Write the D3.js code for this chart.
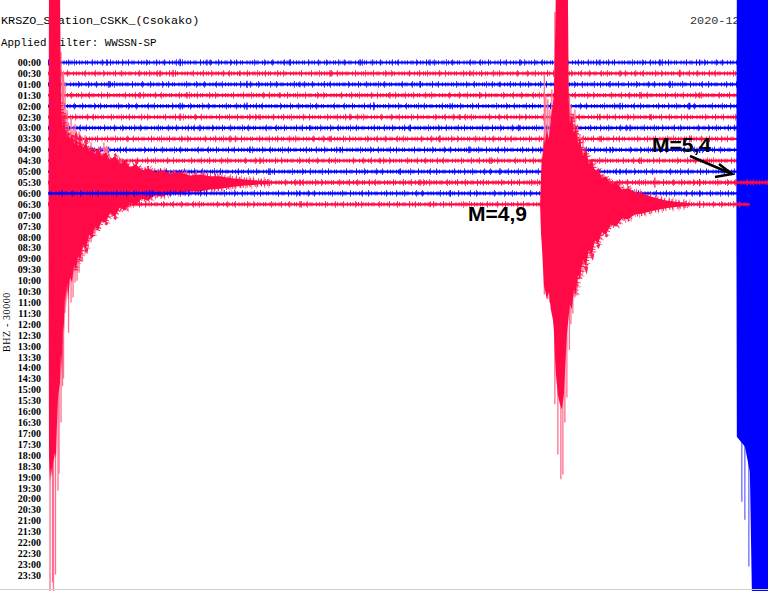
<!DOCTYPE html>
<html>
<head>
<meta charset="utf-8">
<script src="https://cdn.jsdelivr.net/npm/d3@7"></script>
<style>
  html, body { margin: 0; padding: 0; background: #fff; }
  svg { display: block; }
</style>
</head>
<body>
<script>
// метки строк хеликордера (по полчаса)
const timeLabels = ["00:00", "00:30", "01:00", "01:30", "02:00", "02:30", "03:00", "03:30",
  "04:00", "04:30", "05:00", "05:30", "06:00", "06:30", "07:00", "07:30",
  "08:00", "08:30", "09:00", "09:30", "10:00", "10:30", "11:00", "11:30",
  "12:00", "12:30", "13:00", "13:30", "14:00", "14:30", "15:00", "15:30",
  "16:00", "16:30", "17:00", "17:30", "18:00", "18:30", "19:00", "19:30",
  "20:00", "20:30", "21:00", "21:30", "22:00", "22:30", "23:00", "23:30"];

// конец записи в каждой строке, минуты
const rowEnd = [30, 30, 30, 30, 30, 30, 30, 30, 30, 30, 30, 30, 30, 28];

// уровень фонового шума, тыс. отсчётов
const noiseLevel = [3.0, 3.2, 3.0, 3.2, 3.0, 3.2, 3.0, 3.2, 3.0, 3.2, 3.0, 3.6, 3.0, 3.2];

// отдельные всплески шума: [строка, минута, тыс. отсчётов]
const bursts = [
  [0, 2.35, 9], [0, 5.27, 10], [0, 6.34, 8], [0, 9.65, 8], [0, 12.45, 9], [0, 15.24, 8], [0, 18.83, 9], [0, 22.02, 8], [0, 24.41, 9], [0, 26.0, 8],
  [1, 4.47, 9], [1, 4.99, 10], [1, 7.66, 8], [1, 11.25, 9], [1, 16.83, 8], [1, 22.82, 9], [1, 25.21, 10],
  [2, 2.47, 9], [2, 7.94, 10], [2, 10.05, 8], [2, 14.84, 9], [2, 18.03, 8], [2, 22.42, 9], [2, 24.81, 10],
  [3, 3.67, 9], [3, 5.54, 9], [3, 9.25, 8], [3, 13.64, 9], [3, 17.23, 8], [3, 23.61, 9], [3, 26.0, 8],
  [4, 5.27, 9], [4, 7.94, 10], [4, 13.0, 11], [4, 16.04, 8], [4, 22.82, 9], [4, 25.6, 9],
  [5, 5.27, 10], [5, 8.46, 8], [5, 12.05, 9], [5, 16.43, 8], [5, 22.02, 9], [5, 24.01, 8],
  [6, 6.06, 9], [6, 10.45, 8], [6, 14.44, 9], [6, 18.83, 8], [6, 23.22, 9],
  [7, 7.26, 9], [7, 11.25, 8], [7, 15.64, 9], [7, 22.02, 8], [7, 25.6, 9],
  [8, 8.06, 9], [8, 11.65, 8], [8, 16.83, 9], [8, 22.42, 8], [8, 26.0, 9],
  [9, 8.46, 9], [9, 13.24, 8], [9, 17.63, 9], [9, 23.61, 9],
  [10, 8.86, 9], [10, 14.04, 8], [10, 18.03, 9], [10, 22.82, 8],
  [11, 10.05, 9], [11, 14.84, 9], [11, 24.21, 14], [11, 26.0, 10],
  [12, 4.07, 9], [12, 10.05, 8], [12, 16.04, 9], [12, 22.82, 8], [12, 26.0, 9],
  [13, 10.05, 9], [13, 15.24, 8], [13, 26.0, 10]
];

// землетрясения: огибающая [минута, вверх, вниз] в тыс. отсчётов
const quakeRows = [10, 11, 13];

const quakeA = [  // M=5,4, конец строки 05:00
  [27.46, 0, 0], [27.48, 495, 729], [27.64, 495, 743], [27.80, 495, 756],
  [28.00, 495, 825], [28.08, 495, 1155], [28.80, 495, 1155]
];
const quakeAPeaks = [[27.68, 495, 908], [27.80, 495, 957], [27.96, 495, 1086]];

const quakeB = [  // продолжение в строке 05:30
  [0.02, 0, 0], [0.04, 550, 756], [0.08, 550, 825], [0.12, 550, 784], [0.16, 550, 811],
  [0.20, 550, 770], [0.24, 550, 759], [0.28, 550, 743], [0.32, 550, 759], [0.36, 550, 660],
  [0.40, 550, 591], [0.44, 550, 569], [0.48, 523, 550], [0.52, 220, 468], [0.56, 165, 523],
  [0.60, 151, 385], [0.64, 193, 413], [0.68, 138, 303], [0.72, 151, 344], [0.76, 124, 275],
  [0.80, 138, 325], [0.88, 116, 261], [0.96, 132, 275], [1.04, 105, 226], [1.12, 121, 242],
  [1.20, 99, 198], [1.28, 116, 215], [1.40, 94, 171], [1.52, 110, 182], [1.64, 83, 143],
  [1.76, 99, 154], [1.87, 77, 121], [1.99, 94, 132], [2.15, 72, 105], [2.31, 83, 110],
  [2.47, 61, 83], [2.67, 72, 94], [2.87, 50, 69], [3.07, 61, 77], [3.27, 41, 55],
  [3.51, 50, 61], [3.75, 33, 44], [3.99, 39, 50], [4.27, 28, 36], [4.55, 33, 39],
  [4.87, 25, 30], [5.27, 28, 28], [5.66, 19, 25], [6.06, 22, 25], [6.46, 17, 19],
  [6.86, 17, 17], [7.34, 12, 12], [7.86, 8, 8], [8.46, 5, 5], [8.86, 3, 3]
];
const quakeBPeaks = [
  [0.08, 550, 1128], [0.18, 550, 1100], [0.22, 550, 1128], [0.30, 550, 1078], [0.40, 550, 847],
  [0.44, 550, 800], [0.52, 358, 660], [0.58, 300, 560], [0.62, 303, 539], [0.68, 275, 358],
  [0.76, 200, 300], [0.82, 165, 413], [0.92, 180, 330], [1.00, 151, 316], [1.08, 160, 275],
  [1.16, 124, 270], [1.24, 140, 248], [1.36, 124, 215], [1.48, 130, 198], [1.60, 96, 179],
  [1.72, 110, 165], [1.87, 83, 138], [2.03, 100, 120], [2.23, 110, 96], [2.43, 80, 90],
  [2.67, 69, 88], [2.91, 60, 80], [3.19, 55, 77], [3.47, 50, 60], [3.87, 40, 50],
  [4.39, 35, 40], [5.07, 30, 30], [5.46, 30, 33], [5.86, 25, 30], [6.26, 28, 22],
  [6.66, 20, 24], [7.18, 18, 18], [7.66, 14, 16]
];

const quakeC = [  // M=4,9, строка 06:30
  [19.63, 0, 0], [19.67, 83, 83], [19.71, 151, 124], [19.74, 124, 165], [19.78, 193, 220],
  [19.82, 165, 234], [19.90, 206, 261], [19.98, 179, 242], [20.06, 234, 289], [20.14, 275, 316],
  [20.18, 303, 344], [20.22, 413, 413], [20.26, 578, 468], [20.34, 578, 523], [20.42, 578, 550],
  [20.50, 578, 564], [20.58, 578, 523], [20.66, 578, 413], [20.70, 578, 358], [20.74, 578, 330],
  [20.78, 275, 303], [20.82, 220, 275], [20.90, 248, 289], [20.98, 193, 234], [21.06, 215, 248],
  [21.14, 165, 193], [21.22, 182, 206], [21.34, 132, 151], [21.46, 151, 171], [21.58, 110, 124],
  [21.70, 124, 138], [21.82, 88, 99], [21.94, 99, 110], [22.10, 72, 77], [22.26, 77, 83],
  [22.46, 55, 55], [22.66, 61, 61], [22.90, 41, 39], [23.14, 44, 41], [23.42, 33, 28],
  [23.69, 30, 26], [24.01, 22, 20], [24.33, 16, 15], [24.73, 10, 10], [25.21, 6, 6],
  [25.61, 3, 3]
];
const quakeCPeaks = [
  [19.80, 358, 248], [19.86, 300, 230], [19.94, 289, 261], [20.02, 260, 270], [20.10, 316, 275],
  [20.22, 528, 550], [20.34, 578, 688], [20.46, 578, 756], [20.54, 578, 743], [20.62, 578, 600],
  [20.70, 578, 531], [20.80, 300, 400], [20.86, 275, 330], [20.94, 250, 300], [21.02, 261, 256],
  [21.12, 220, 230], [21.22, 193, 171], [21.34, 180, 190], [21.42, 151, 165], [21.62, 120, 140],
  [21.90, 83, 99], [22.18, 80, 75], [22.34, 55, 60], [22.54, 60, 60], [22.82, 45, 40],
  [23.22, 35, 30], [23.61, 25, 22], [23.93, 20, 18]
];

const quakeEnv = [quakeA, quakeB, quakeC];
const quakePeaks = [quakeAPeaks, quakeBPeaks, quakeCPeaks];

const W = 768, H = 591;
const blue = "#0000ff", blueLight = "#6a6aff";
const red = "#ff0a46", redLight = "#ff6f8f";

const svg = d3.select("body").append("svg")
    .attr("width", W)
    .attr("height", H)
    .style("background-color", "#fff");

const x = d3.scaleLinear().domain([0, 30]).range([48, 800]);  // минуты внутри строки
const y = d3.scaleLinear().domain([0, 47]).range([62.5, 575.3]);  // номер строки
const amp = d3.scaleLinear().domain([0, 30]).range([0, y(1) - y(0)]);  // 30000 отсчётов на строку

// подписи сверху
svg.append("text")
    .attr("x", 1).attr("y", 24)
    .style("font-family", "'Liberation Mono', 'DejaVu Sans Mono', monospace")
    .style("font-size", "11.8px")
    .text("KRSZO_Station_CSKK_(Csokako)");

svg.append("text")
    .attr("x", 1).attr("y", 46)
    .style("font-family", "'Liberation Mono', 'DejaVu Sans Mono', monospace")
    .style("font-size", "10.8px")
    .text("Applied filter: WWSSN-SP");

svg.append("text")
    .attr("x", 690).attr("y", 24)
    .style("font-family", "'Liberation Mono', 'DejaVu Sans Mono', monospace")
    .style("font-size", "11.8px")
    .style("fill", "#333")
    .text("2020-12-28");

// метки времени слева
svg.append("g").selectAll("text")
    .data(timeLabels)
    .join("text")
    .attr("x", 41)
    .attr("y", (d, i) => y(i))
    .attr("dy", "0.35em")
    .attr("text-anchor", "end")
    .style("font-family", "'Liberation Serif', 'DejaVu Serif', serif")
    .style("font-weight", "bold")
    .style("font-size", "10px")
    .text(d => d);

svg.append("text")
    .attr("transform", "translate(10,322) rotate(-90)")
    .attr("text-anchor", "middle")
    .style("font-family", "'Liberation Serif', 'DejaVu Serif', serif")
    .style("font-size", "10px")
    .style("letter-spacing", "0.6px")
    .text("BHZ - 30000");

// трассы по строкам, в порядке записи
const noiseLine = d3.line().x(d => x(d));

// хвост огибающей: точки после последнего большого значения
function coda(env, k) {
  let last = -1;
  env.forEach((d, j) => { if (d[k] >= 250) last = j; });
  return last < 0 ? [] : env.slice(last + 1);
}

rowEnd.forEach((end, i) => {
  const g = svg.append("g");
  const base = y(i);
  const col = i % 2 === 0 ? blue : red;
  const light = i % 2 === 0 ? blueLight : redLight;

  // шум: сплошная середина и штриховая «бахрома»
  g.append("path")
      .datum([0, end])
      .attr("d", d3.area()
          .x(d => x(d))
          .y0(base + amp(noiseLevel[i]))
          .y1(base - amp(noiseLevel[i])))
      .style("fill", col);

  g.append("path")
      .datum([0, end])
      .attr("d", noiseLine.y(base))
      .style("fill", "none")
      .style("stroke", col)
      .style("stroke-width", 2 * amp(noiseLevel[i]) + 2.2)
      .style("stroke-dasharray", "1 1.5 1 2.5 1 1 1 3.5 1 2")
      .style("stroke-dashoffset", i * 3)
      .style("opacity", 0.8);

  g.append("path")
      .datum([0, end])
      .attr("d", noiseLine.y(base))
      .style("fill", "none")
      .style("stroke", col)
      .style("stroke-width", 2 * amp(noiseLevel[i]) + 4.5)
      .style("stroke-dasharray", "1 7 1 11 1 5 1 17 1 9")
      .style("stroke-dashoffset", i * 7)
      .style("opacity", 0.7);

  g.selectAll("line.burst")
      .data(bursts.filter(b => b[0] === i))
      .join("line")
      .attr("x1", d => x(d[1])).attr("x2", d => x(d[1]))
      .attr("y1", d => base - amp(d[2])).attr("y2", d => base + amp(d[2]))
      .style("stroke", col)
      .style("stroke-width", 1.2);

  const q = quakeRows.indexOf(i);
  if (q >= 0) {
    const env = quakeEnv[q];

    g.selectAll("line.peak")
        .data(quakePeaks[q])
        .join("line")
        .attr("x1", d => x(d[0])).attr("x2", d => x(d[0]))
        .attr("y1", d => base - amp(d[1])).attr("y2", d => base + amp(d[2]))
        .style("stroke", light)
        .style("stroke-width", 1.3);

    // рваный край хвоста огибающей
    const edges = [
      [coda(env, 1), d3.line().x(d => x(d[0])).y(d => base - amp(d[1]))],
      [coda(env, 2), d3.line().x(d => x(d[0])).y(d => base + amp(d[2]))]
    ];
    edges.forEach(([pts, edge]) => {
      if (pts.length < 2) return;
      g.append("path")
          .datum(pts)
          .attr("d", edge)
          .style("fill", "none")
          .style("stroke", light)
          .style("stroke-width", 8)
          .style("stroke-dasharray", "1 4 1 7 1 3 1 10 1 5")
          .style("opacity", 0.9);
      g.append("path")
          .datum(pts)
          .attr("d", edge)
          .style("fill", "none")
          .style("stroke", col)
          .style("stroke-width", 4.5)
          .style("stroke-dasharray", "1 1.5 1 3 1 2 1 4")
          .style("opacity", 0.9);
    });

    g.append("path")
        .datum(env)
        .attr("d", d3.area()
            .x(d => x(d[0]))
            .y0(d => base + amp(d[2]))
            .y1(d => base - amp(d[1])))
        .style("fill", col);
  }
});

// нижняя граница окна
svg.append("line")
    .attr("x1", 0).attr("x2", W)
    .attr("y1", 589.5).attr("y2", 589.5)
    .style("stroke", "#cfcfcf")
    .style("stroke-width", 1);

// магнитуды
svg.append("text")
    .attr("x", 468).attr("y", 221)
    .style("font-family", "'Liberation Sans', Arial, sans-serif")
    .style("font-weight", "bold")
    .style("font-size", "21px")
    .text("M=4,9");

svg.append("text")
    .attr("x", 652).attr("y", 152)
    .style("font-family", "'Liberation Sans', Arial, sans-serif")
    .style("font-weight", "bold")
    .style("font-size", "21px")
    .text("M=5,4");

svg.append("line")
    .attr("x1", 690).attr("y1", 156)
    .attr("x2", 732).attr("y2", 174)
    .style("stroke", "#000")
    .style("stroke-width", 2.5);

svg.append("polyline")
    .attr("points", "719,164 732,174 715,177")
    .style("fill", "none")
    .style("stroke", "#000")
    .style("stroke-width", 2.5);
</script>
</body>
</html>
